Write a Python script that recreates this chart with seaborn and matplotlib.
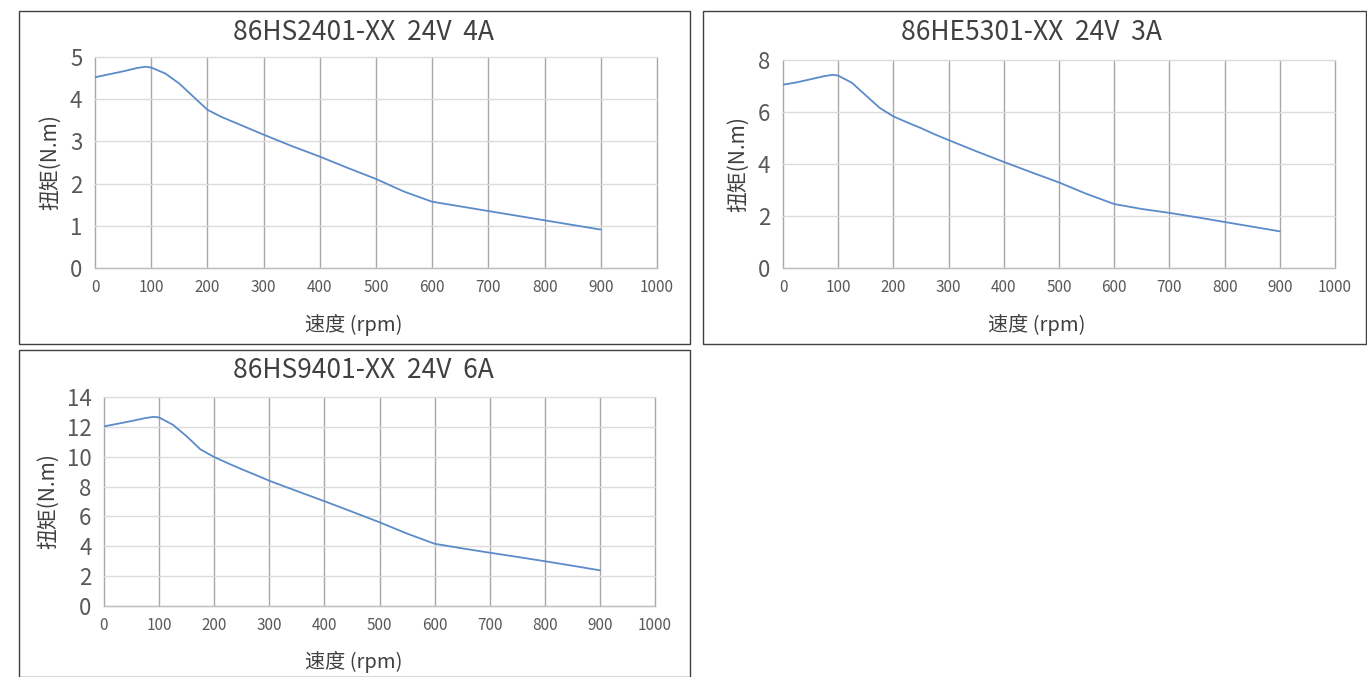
import matplotlib
matplotlib.use("Agg")
import matplotlib.pyplot as plt
from matplotlib.patches import Rectangle
import seaborn as sns
import pandas as pd

# ---- data ----
speed = [0, 25, 50, 75, 90, 100, 125, 150, 175, 200, 225, 250, 275, 300, 350, 400, 450, 500,
         550, 600, 650, 700, 750, 800, 850, 900]
torque_hs2401 = [4.52, 4.59, 4.66, 4.74, 4.77, 4.75, 4.61, 4.37, 4.06, 3.75, 3.58, 3.44, 3.30, 3.16,
                 2.89, 2.64, 2.37, 2.11, 1.81, 1.57, 1.46, 1.35, 1.24, 1.13, 1.02, 0.91]
torque_he5301 = [7.05, 7.14, 7.26, 7.38, 7.43, 7.40, 7.12, 6.64, 6.16, 5.83, 5.60, 5.38, 5.14, 4.92,
                 4.49, 4.08, 3.68, 3.29, 2.85, 2.46, 2.27, 2.12, 1.95, 1.77, 1.59, 1.41]
torque_hs9401 = [12.03, 12.21, 12.39, 12.59, 12.67, 12.63, 12.14, 11.37, 10.49, 9.98, 9.56, 9.16, 8.78, 8.39,
                 7.70, 7.02, 6.32, 5.61, 4.85, 4.17, 3.86, 3.57, 3.29, 3.00, 2.70, 2.39]

titles = ["86HS2401-XX  24V  4A", "86HE5301-XX  24V  3A", "86HS9401-XX  24V  6A"]
y_max = [5, 8, 14]
y_step = [1, 2, 2]
x_ticks = [0, 100, 200, 300, 400, 500, 600, 700, 800, 900, 1000]
x_label = "速度 (rpm)"
y_label = "扭矩(N.m)"

sns.set_theme(style="white")
plt.rcParams['font.family'] = ['Noto Sans CJK SC', 'DejaVu Sans']

W, H = 1367, 677
fig = plt.figure(figsize=(W / 100, H / 100), dpi=100)

def fx(px):
    return px / W

def fy(py):
    return 1 - py / H

# panel frames (pixels: x0, y0, x1, y1)
frames = [(19, 11, 690, 344), (703, 11, 1366, 344), (19, 350, 690, 677)]
for (x0, y0, x1, y1) in frames:
    fig.add_artist(Rectangle((fx(x0), fy(y1)), fx(x1 - x0), (y1 - y0) / H,
                             transform=fig.transFigure, fill=False,
                             edgecolor="#404040", linewidth=1.0))

# axes positions (pixels: left, top, right, bottom)
axes_px = [(95, 57, 657, 268), (783, 60, 1335, 268), (104, 397, 655, 606)]
title_pos = [(363, 32), (1031, 32), (363, 370)]
xlabel_pos = [(354, 325), (1037, 325), (354, 662)]
ylabel_x = [50, 738, 48]
series = [torque_hs2401, torque_he5301, torque_hs9401]

for i in range(3):
    l, t, r, b = axes_px[i]
    ax = fig.add_axes([fx(l), fy(b), fx(r - l), (b - t) / H])
    df = pd.DataFrame({"speed": speed, "torque": series[i]})
    sns.lineplot(data=df, x="speed", y="torque", ax=ax, color="#5b8bc9", linewidth=1.3)
    ax.set_xlim(0, 1000)
    ax.set_ylim(0, y_max[i])
    ax.set_xticks(x_ticks)
    ax.set_yticks(list(range(0, y_max[i] + 1, y_step[i])))
    ax.tick_params(axis="x", labelsize=11, colors="#595959", length=0, pad=8)
    ax.tick_params(axis="y", labelsize=16, colors="#595959", length=0, pad=9)
    ax.set_xlabel("")
    ax.set_ylabel("")
    ax.grid(axis="y", color="#dcdcdc", linewidth=1.0)
    ax.grid(axis="x", color="#a8a8a8", linewidth=1.0)
    for gl in ax.get_xgridlines() + ax.get_ygridlines():
        gl.set_clip_on(False)
    ax.set_axisbelow(True)
    for s in ["top", "right", "left"]:
        ax.spines[s].set_visible(False)
    ax.spines["bottom"].set_color("#bfbfbf")
    ax.spines["bottom"].set_linewidth(1.0)
    cy = (t + b) / 2
    fig.text(fx(title_pos[i][0]), fy(title_pos[i][1]), titles[i], ha="center", va="center",
             fontsize=19, color="#404040", fontweight="light")
    fig.text(fx(xlabel_pos[i][0]), fy(xlabel_pos[i][1]), x_label, ha="center", va="center",
             fontsize=14.5, color="#404040")
    fig.text(fx(ylabel_x[i]), fy(cy), y_label, ha="center", va="center",
             rotation=90, fontsize=15, color="#404040")

fig.savefig("out.png", dpi=100, facecolor="white")
